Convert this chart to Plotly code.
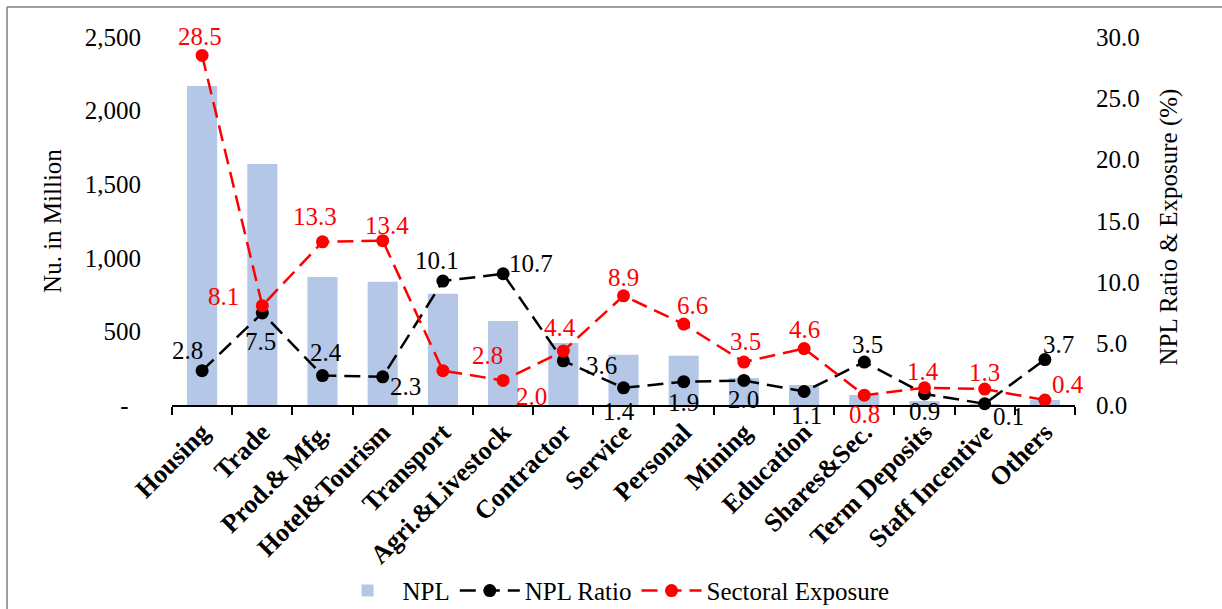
import plotly.graph_objects as go

# Sector names on the category axis
sectors = ["Housing", "Trade", "Prod.& Mfg.", "Hotel&Tourism", "Transport",
           "Agri.&Livestock", "Contractor", "Service", "Personal", "Mining",
           "Education", "Shares&Sec.", "Term Deposits", "Staff Incentive", "Others"]

# Non-performing loans (Nu. in million)
npl = [2167, 1637, 870, 838, 756, 571, 421, 342, 335, 183, 136, 68, 27, 2, 34]

# NPL ratio by sector (%)
npl_ratio = [2.8, 7.5, 2.4, 2.3, 10.1, 10.7, 3.6, 1.4, 1.9, 2.0, 1.1, 3.5, 0.9, 0.1, 3.7]

# Share of total exposure by sector (%)
exposure = [28.5, 8.1, 13.3, 13.4, 2.8, 2.0, 4.4, 8.9, 6.6, 3.5, 4.6, 0.8, 1.4, 1.3, 0.4]

# Left axis ticks
left_ticks = [0, 500, 1000, 1500, 2000, 2500]
left_tick_text = ["-\u00a0\u00a0", "500", "1,000", "1,500", "2,000", "2,500"]
right_ticks = [0, 5, 10, 15, 20, 25, 30]

# Pixel offsets of the value labels relative to their markers
exposure_label_shift = [(-2, -19), (-39, -9), (-8, -25), (4, -15), (45, -15), (28, 16),
                        (-3, -24), (0, -18), (9, -19), (2, -21), (0, -19), (0, 19),
                        (-2, -16), (0, -17), (23, -16)]
ratio_label_shift = [(-15, -20), (-2, 28), (3, -23), (23, 10), (-6, -21), (28, -10),
                     (38, 5), (-5, 24), (0, 21), (0, 19), (2, 24), (3, -18),
                     (0, 18), (24, 13), (14, -15)]

FONT = "Liberation Serif"
FS = 25
RED = "#FF0000"
BLUE = "#B4C7E7"

fig = go.Figure()

fig.add_trace(go.Bar(
    x=sectors, y=npl, name="NPL", marker=dict(color=BLUE, line=dict(width=0)),
    yaxis="y",
))

fig.add_trace(go.Scatter(
    x=sectors, y=npl_ratio, name="NPL Ratio", yaxis="y2", mode="lines+markers",
    line=dict(color="black", width=2.5, dash="16px,8px"),
    marker=dict(color="black", size=13, symbol="circle"),
    cliponaxis=False,
))

fig.add_trace(go.Scatter(
    x=sectors, y=exposure, name="Sectoral Exposure", yaxis="y2", mode="lines+markers",
    line=dict(color=RED, width=2.5, dash="16px,8px"),
    marker=dict(color=RED, size=13, symbol="circle"),
    cliponaxis=False,
))

annotations = []
for s, v, (dx, dy) in zip(sectors, npl_ratio, ratio_label_shift):
    annotations.append(dict(x=s, y=v, xref="x", yref="y2", text=f"{v:.1f}",
                            showarrow=False, xshift=dx, yshift=-dy,
                            font=dict(family=FONT, size=FS, color="black")))
for s, v, (dx, dy) in zip(sectors, exposure, exposure_label_shift):
    annotations.append(dict(x=s, y=v, xref="x", yref="y2", text=f"{v:.1f}",
                            showarrow=False, xshift=dx, yshift=-dy,
                            font=dict(family=FONT, size=FS, color=RED)))

# Axis titles
annotations.append(dict(x=-0.133, y=0.5, xref="paper", yref="paper", text="Nu. in Million",
                        textangle=-90, showarrow=False, xanchor="center", yanchor="middle",
                        font=dict(family=FONT, size=FS, color="black")))
annotations.append(dict(x=1.104, y=0.485, xref="paper", yref="paper",
                        text="NPL Ratio &amp; Exposure (%)",
                        textangle=-90, showarrow=False, xanchor="center", yanchor="middle",
                        font=dict(family=FONT, size=FS, color="black")))

fig.update_layout(
    width=1222, height=609,
    margin=dict(l=172, r=147, t=37, b=204, autoexpand=False),
    paper_bgcolor="white", plot_bgcolor="white",
    font=dict(family=FONT, size=FS, color="black"),
    bargap=0.5,
    showlegend=True,
    legend=dict(orientation="h", x=0.489, xanchor="center", y=-0.505, yanchor="middle",
                font=dict(family=FONT, size=FS, color="black"),
                itemwidth=60, tracegroupgap=0),
    xaxis=dict(type="category", showline=True, linecolor="black", linewidth=1.5,
               ticks="outside", tickson="boundaries", ticklen=8, tickwidth=1.5,
               tickcolor="black", tickangle=-45, showgrid=False, zeroline=False,
               automargin=False,
               tickfont=dict(family=FONT, size=26, color="black", weight="bold"),
               range=[-0.5, 14.5]),
    yaxis=dict(range=[0, 2500], tickvals=left_ticks, ticktext=left_tick_text,
               showgrid=False, zeroline=False, showline=False, ticks="", automargin=False,
               ticklabelstandoff=30, tickfont=dict(family=FONT, size=FS, color="black")),
    yaxis2=dict(range=[0, 30], tickvals=right_ticks, tickformat=".1f", overlaying="y",
                side="right", showgrid=False, zeroline=False, showline=False, ticks="",
                automargin=False,
                ticklabelstandoff=20, tickfont=dict(family=FONT, size=FS, color="black")),
    annotations=annotations,
    shapes=[
        dict(type="line", xref="paper", yref="paper", x0=-0.1827, x1=-0.1827,
             y0=1.0815, y1=-0.6, line=dict(color="#7F7F7F", width=1.5)),
        dict(type="line", xref="paper", yref="paper", x0=-0.1827, x1=1.2,
             y0=1.0815, y1=1.0815, line=dict(color="#7F7F7F", width=1.5)),
    ],
)

fig.write_html("out.html")
